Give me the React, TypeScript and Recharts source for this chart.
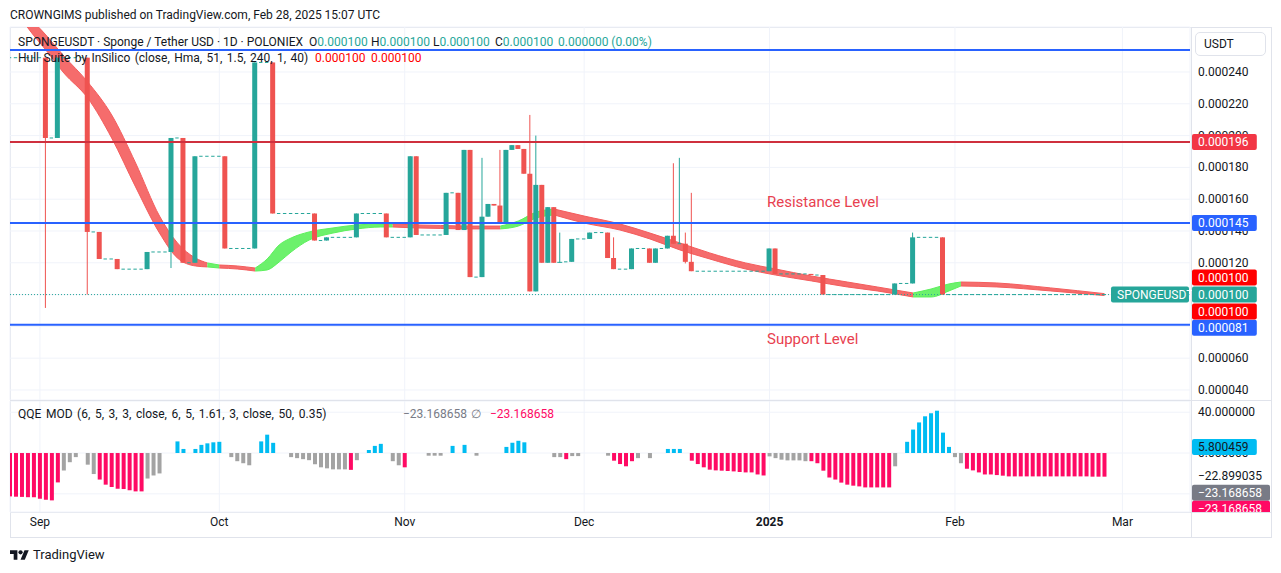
import React from "react";
import {
  ComposedChart,
  Bar,
  Area,
  XAxis,
  YAxis,
  CartesianGrid,
  ReferenceLine,
  Cell,
} from "recharts";

const FONT = "Roboto, 'Liberation Sans', sans-serif";
const TEAL = "#26a69a";
const RED = "#ef5350";
const INK = "#131722";
const GRID = "#f0f3fa";

// day 0 = 1 Sep 2024, first candle is 27 Aug
const FIRST_DAY = -5;
const X_DOMAIN: [number, number] = [-5, 192.3];
const PRICE_DOMAIN: [number, number] = [33.7, 268.3];
const QQE_DOMAIN: [number, number] = [-57.8, 51];
const monthTicks = [0, 30, 61, 91, 122, 153, 181];
const monthLabels = ["Sep", "Oct", "Nov", "Dec", "2025", "Feb", "Mar"];

// prices in millionths of a USDT (100 = 0.000100)
const opens = [
  249, 249, 249, 249, 249, 249, 249, 198.5, 198.5, 249,
  249, 249, 249, 249, 139.4, 139.4, 122.4, 122.4, 122.4, 116,
  116, 116, 116, 116, 126.8, 126.8, 126.8, 126.8, 198.5, 198.5,
  120, 120, 187, 187, 187, 187, 187, 129, 129, 129,
  129, 129, 246, 246, 246, 151, 151, 151, 151, 151,
  151, 151, 134, 134, 136, 136, 136, 136, 136, 151,
  151, 151, 151, 151, 136, 136, 136, 136, 187, 137.5,
  137.5, 137.5, 137.5, 137.5, 164, 164, 140.6, 191, 111, 111,
  149, 157, 156, 145.6, 191, 194, 191.6, 176, 102, 169,
  120, 155, 120, 120.6, 120.6, 135, 135, 135, 139, 139,
  139, 123, 116, 116, 116, 129, 129, 129, 120, 129,
  129, 137, 132, 132, 120.6, 114.7, 114.7, 114.7, 114.7, 114.7,
  114.7, 114.7, 114.7, 114.7, 114.7, 114.7, 114.7, 114.7, 129, 113,
  113, 113, 113, 113, 113, 112.3, 112.3, 100, 100, 100,
  100, 100, 100, 100, 100, 100, 100, 100, 100, 107,
  107, 107, 136, 136, 136, 136, 136, 100, 100, 100,
  100, 100, 100, 100, 100, 100, 100, 100, 100, 100,
  100, 100, 100, 100, 100, 100, 100, 100, 100, 100,
  100, 100, 100, 100,
];
const closes = [
  249, 249, 249, 249, 249, 249, 198.5, 198.5, 249, 249,
  249, 249, 249, 139.4, 139.4, 122.4, 122.4, 122.4, 116, 116,
  116, 116, 116, 126.8, 126.8, 126.8, 126.8, 198.5, 198.5, 120,
  120, 187, 187, 187, 187, 187, 129, 129, 129, 129,
  129, 246, 246, 246, 151, 151, 151, 151, 151, 151,
  151, 134, 134, 136, 136, 136, 136, 136, 151, 151,
  151, 151, 151, 136, 136, 136, 136, 187, 137.5, 137.5,
  137.5, 137.5, 137.5, 164, 164, 140.6, 191, 111, 111, 149,
  157, 156, 145.6, 191, 194, 191.6, 176, 102, 169, 120,
  155, 120, 120.6, 120.6, 135, 135, 135, 139, 139, 139,
  123, 116, 116, 116, 129, 129, 129, 120, 129, 129,
  137, 132, 132, 120.6, 114.7, 114.7, 114.7, 114.7, 114.7, 114.7,
  114.7, 114.7, 114.7, 114.7, 114.7, 114.7, 114.7, 129, 113, 113,
  113, 113, 113, 113, 112.3, 112.3, 100, 100, 100, 100,
  100, 100, 100, 100, 100, 100, 100, 100, 107, 107,
  107, 136, 136, 136, 136, 136, 100, 100, 100, 100,
  100, 100, 100, 100, 100, 100, 100, 100, 100, 100,
  100, 100, 100, 100, 100, 100, 100, 100, 100, 100,
  100, 100, 100, 100,
];
// wick ends, only on the days where a wick sticks out of the body
const wickHighs: Record<number, number> = {
  74: 186, 77: 191, 82: 213, 83: 200, 87: 139, 96: 136,
  106: 182.6, 107: 186, 108: 139, 109: 164, 146: 139,
};
const wickLows: Record<number, number> = { 1: 91.6, 8: 100, 22: 116.7, 108: 119.6 };

// Hull Suite band, read every few days
const hullDays = [
  -4, -2, 1, 4, 8, 12, 16, 20, 23, 26, 28, 30, 33, 36, 38, 40, 42, 45, 49, 53, 57, 59,
  63, 67, 72, 77, 80, 83, 86, 91, 97, 102, 107, 112, 118, 123, 129, 135, 140, 146,
  149, 152, 154, 160, 169, 178,
];
const hullUpper = [
  288, 276, 263.3, 250.1, 233.7, 213, 182.8, 149.4, 132.5, 123, 119.9, 118.6, 118,
  116.7, 122.4, 131.2, 135.6, 139.4, 141.9, 143.8, 144.4, 144.4, 143.8, 143.5, 143.1,
  143.1, 146.3, 151.9, 153.8, 149.4, 144.4, 138.7, 132.5, 126.2, 119.9, 116.1, 111.7,
  107.9, 104.8, 101, 103.5, 106.7, 107.9, 107.3, 104.2, 100.6,
];
const hullLower = [
  279, 267.7, 253.8, 239.4, 223.6, 198.5, 167.7, 138.7, 123, 118, 117.4, 116.7, 116.1,
  114.8, 115.5, 120.5, 126.8, 134.3, 138.7, 141.3, 142.5, 142.5, 141.9, 141.6, 141.3,
  141.3, 143.1, 148.2, 150.1, 145, 140.6, 135, 128.1, 122.4, 116.1, 112.3, 108.6,
  104.8, 102.3, 98.5, 98.5, 102.3, 105.4, 104.8, 102.3, 99.4,
];
// colour of the band from each sample to the next: r falling, g rising
const hullTrend = [
  "r", "r", "r", "r", "r", "r", "r", "r", "r", "r", "g", "r", "r", "g", "g", "g", "g",
  "g", "g", "g", "g", "r", "r", "r", "r", "g", "g", "g", "r", "r", "r", "r", "r", "r",
  "r", "r", "r", "r", "r", "g", "g", "g", "r", "r", "r", "r",
];

// QQE MOD histogram, one bar a day from FIRST_DAY
const qqe = [
  -42.5, -42.8, -43, -43.3, -43.3, -44.8, -45.8, -46.4, -28.8, -17,
  -9, -4, null, -11.4, -20.6, -26, -31, -33.3, -35, -35.3,
  -36.6, -37.6, -37.6, -25, -22, -20, null, null, 11.4, 4,
  null, 4, 8, 9.5, 10.5, 11, null, -4, -8, -10,
  -12, null, 11.4, 18, 10, null, null, -4, -5, -6,
  -7, -11, -14, -15, -16, -16, -16, -16.5, -7, null,
  3, 7, 9, null, -8, -12, -14, null, null, null,
  -2.6, -2.6, -2.6, null, 7, null, 8, null, -2.6, null,
  null, null, null, 6, 10, 12, 10.5, null, null, null,
  null, -4, -4, -6, -3, -3, null, null, null, null,
  -2.6, -7.5, -10.8, -13, -8, -5, null, -5, null, null,
  4, 4, 4, null, -7.5, -10.8, -14, -16.3, -17, -17.3,
  -17.6, -18, -18.6, -19, -19, -21, -22, -3.3, -5, -6.5,
  -7.2, -7.2, -7.2, -8, -8, -10, -17.3, -24, -26, -29,
  -31, -32, -32.7, -33.7, -33.7, -33.7, -33.7, -33.7, -13, null,
  11, 23, 30, 36, 39, 41.5, 20, 6, -4, -10,
  -15.4, -17, -19, -21, -21, -21.6, -22.2, -22.9, -22.9, -22.9,
  -22.9, -22.9, -22.9, -22.9, -22.9, -22.9, -22.9, -22.9, -22.9, -22.9,
  -22.9, -23.17, -23.17, -23.17,
];
// u above the upper band, d below the lower band, n neutral
const qqeTone = [
  "d", "d", "d", "d", "d", "d", "d", "d", "d", "n",
  "n", "n", "n", "n", "n", "d", "d", "d", "d", "d",
  "d", "d", "d", "n", "n", "n", "n", "n", "u", "u",
  "n", "u", "u", "u", "u", "u", "n", "n", "n", "n",
  "n", "n", "u", "u", "u", "n", "n", "n", "n", "n",
  "n", "n", "n", "n", "n", "n", "n", "d", "n", "n",
  "u", "u", "u", "n", "n", "n", "d", "n", "n", "n",
  "n", "n", "n", "n", "u", "n", "u", "n", "n", "n",
  "n", "n", "n", "u", "u", "u", "u", "n", "n", "n",
  "n", "n", "n", "d", "n", "n", "n", "n", "n", "n",
  "n", "d", "d", "d", "d", "n", "n", "n", "n", "n",
  "u", "u", "u", "n", "d", "d", "d", "d", "d", "d",
  "d", "d", "d", "d", "d", "d", "d", "n", "n", "n",
  "n", "n", "n", "n", "d", "d", "d", "d", "d", "d",
  "d", "d", "d", "d", "d", "d", "d", "d", "n", "n",
  "u", "u", "u", "u", "u", "u", "u", "u", "n", "n",
  "d", "d", "d", "d", "d", "d", "d", "d", "d", "d",
  "d", "d", "d", "d", "d", "d", "d", "d", "d", "d",
  "d", "d", "d", "d",
];
const toneColor: Record<string, string> = { u: "#00bcf2", d: "#ff0a64", n: "#a3a3a3" };

const priceTicks = [40, 60, 80, 100, 120, 140, 160, 180, 200, 220, 240];
const qqeTicks = [40, 0, -40];

const candles = opens.map((open, i) => {
  const day = FIRST_DAY + i;
  const close = closes[i];
  return {
    day,
    open,
    close,
    high: wickHighs[day] ?? Math.max(open, close),
    low: wickLows[day] ?? Math.min(open, close),
  };
});

type HullPoint = { day: number; band: [number, number] };
const hullSegments: { tone: string; points: HullPoint[] }[] = [];
hullDays.forEach((day, i) => {
  const point: HullPoint = { day, band: [hullLower[i], hullUpper[i]] };
  const last = hullSegments[hullSegments.length - 1];
  if (!last || last.tone !== hullTrend[i]) {
    if (last) last.points.push(point);
    hullSegments.push({ tone: hullTrend[i], points: [point] });
  } else {
    last.points.push(point);
  }
});

const qqeRows = qqe.map((q, i) => ({ day: FIRST_DAY + i, q, tone: qqeTone[i] }));

const fmtPrice = (v: number) => (v / 1e6).toFixed(6);
const fmtQqe = (v: number) => v.toFixed(6).replace("-", "\u2212");

const Candle = (props: any) => {
  const { x, y, width, height, payload } = props;
  const { open, close, high, low } = payload;
  const color = close < open ? RED : TEAL;
  const cx = x + width / 2;
  const span = high - low;
  const k = span > 0 ? height / span : 0;
  const top = y + (high - Math.max(open, close)) * k;
  const bottom = y + (high - Math.min(open, close)) * k;
  const flat = open === close;
  return (
    <g>
      {span > 0 && (
        <line x1={cx} x2={cx} y1={y} y2={y + height} stroke={color} strokeWidth={1} />
      )}
      <rect
        x={flat ? x + 0.8 : x}
        y={flat ? top - 0.5 : top}
        width={flat ? width - 1.6 : width}
        height={Math.max(1, bottom - top)}
        fill={color}
      />
    </g>
  );
};

// price tag on the right axis (or just inside the plot when inside=true)
const tag =
  (text: string, bg: string, dy = 0, fg = "#ffffff", inside = false) =>
  (p: any) => {
    const vb = p.viewBox;
    const w = text.length * 6.6 + 12;
    const x = inside ? vb.x + vb.width - w - 1 : vb.x + vb.width + 2;
    const y = vb.y + dy;
    return (
      <g>
        <rect x={x} y={y - 8} width={w} height={16} rx={2} fill={bg} />
        <text x={x + 6} y={y + 4} fill={fg} fontSize={12} fontFamily={FONT}>
          {text}
        </text>
      </g>
    );
  };

const plainTag = (text: string) => (p: any) => {
  const vb = p.viewBox;
  return (
    <text x={vb.x + vb.width + 8} y={vb.y + 4} fill={INK} fontSize={12} fontFamily={FONT}>
      {text}
    </text>
  );
};

const PriceTick = (p: any) => (
  <text x={p.x} y={p.y} dy={4} fill={INK} fontSize={12} fontFamily={FONT}>
    {p.fmt(p.payload.value)}
  </text>
);

const TimeTick = (p: any) => {
  const label = monthLabels[monthTicks.indexOf(p.payload.value)];
  return (
    <text
      x={p.x}
      y={p.y}
      dy={4}
      textAnchor="middle"
      fill={INK}
      fontSize={12}
      fontWeight={label === "2025" ? 700 : 400}
      fontFamily={FONT}
    >
      {label}
    </text>
  );
};

const Txt = ({ x, y, children, color = INK, size = 12, wide = 0 }: any) => (
  <div
    style={{
      position: "absolute",
      left: x,
      top: y - 8,
      height: 16,
      lineHeight: "16px",
      fontSize: size,
      color,
      fontFamily: FONT,
      whiteSpace: "nowrap",
      wordSpacing: wide,
    }}
  >
    {children}
  </div>
);

const MAIN_MARGIN = { top: 27, right: 0, bottom: 0, left: 10 };
const QQE_MARGIN = { top: 0, right: 0, bottom: 0, left: 10 };

const App = () => {
  return (
    <div style={{ position: "relative", width: 1281, height: 573, background: "#fff", overflow: "hidden" }}>
      <style>{"body{margin:0}"}</style>

      <svg width={1281} height={573} style={{ position: "absolute", left: 0, top: 0 }}>
        <rect x={10.5} y={27.5} width={1261} height={510} fill="none" stroke="#e0e3eb" />
        <line x1={1191.5} x2={1191.5} y1={27} y2={538} stroke="#e0e3eb" />
        <line x1={10} x2={1272} y1={400.5} y2={400.5} stroke="#e0e3eb" />
        <line x1={10} x2={1272} y1={512.5} y2={512.5} stroke="#e0e3eb" />
      </svg>

      {/* price pane */}
      <div style={{ position: "absolute", left: 0, top: 0 }}>
        <ComposedChart width={1281} height={400} data={candles} margin={MAIN_MARGIN}>
          <CartesianGrid stroke={GRID} />
          <XAxis
            dataKey="day"
            type="number"
            domain={X_DOMAIN}
            ticks={monthTicks}
            allowDataOverflow
            hide
          />
          <YAxis
            orientation="right"
            width={91}
            domain={PRICE_DOMAIN}
            ticks={priceTicks}
            allowDataOverflow
            axisLine={false}
            tickLine={false}
            tickSize={0}
            tickMargin={8}
            tick={<PriceTick fmt={fmtPrice} />}
          />
          {hullSegments.map((s, i) => (
            <Area
              key={i}
              data={s.points}
              dataKey="band"
              type="monotone"
              stroke={s.tone === "g" ? "#5cf05c" : "#f45c5c"}
              strokeWidth={1}
              fill={s.tone === "g" ? "#5cf05c" : "#f45c5c"}
              fillOpacity={0.9}
              isAnimationActive={false}
            />
          ))}
          <Bar
            dataKey={(r: any) => [r.low, r.high]}
            barSize={5}
            shape={<Candle />}
            isAnimationActive={false}
          />
          <ReferenceLine y={253.8} stroke="#2962ff" strokeWidth={2} />
          <ReferenceLine y={196} stroke="#cf303e" strokeWidth={2} />
          <ReferenceLine y={145} stroke="#2962ff" strokeWidth={2} />
          <ReferenceLine y={81} stroke="#2962ff" strokeWidth={2} />
          <ReferenceLine y={100} stroke={TEAL} strokeDasharray="1 2" strokeWidth={1} />
        </ComposedChart>
      </div>

      {/* price tags, drawn over the axis labels */}
      <div style={{ position: "absolute", left: 0, top: 0 }}>
        <ComposedChart width={1281} height={400} data={candles} margin={MAIN_MARGIN}>
          <XAxis dataKey="day" type="number" domain={X_DOMAIN} allowDataOverflow hide />
          <YAxis
            orientation="right"
            width={91}
            domain={PRICE_DOMAIN}
            allowDataOverflow
            axisLine={false}
            tickLine={false}
            tick={false}
          />
          <ReferenceLine y={196} strokeOpacity={0} label={tag("0.000196", "#f23645")} />
          <ReferenceLine y={145} strokeOpacity={0} label={tag("0.000145", "#2962ff")} />
          <ReferenceLine y={81} strokeOpacity={0} label={tag("0.000081", "#2962ff", 3)} />
          <ReferenceLine
            y={100}
            strokeOpacity={0}
            label={tag("SPONGEUSDT", TEAL, 0, "#fff", true)}
          />
          <ReferenceLine y={100} strokeOpacity={0} label={tag("0.000100", "#ff0000", -17)} />
          <ReferenceLine y={100} strokeOpacity={0} label={tag("0.000100", TEAL)} />
          <ReferenceLine y={100} strokeOpacity={0} label={tag("0.000100", "#ff0000", 17)} />
        </ComposedChart>
      </div>

      {/* QQE pane */}
      <div style={{ position: "absolute", left: 0, top: 401 }}>
        <ComposedChart width={1281} height={137} data={qqeRows} margin={QQE_MARGIN}>
          <CartesianGrid stroke={GRID} />
          <XAxis
            dataKey="day"
            type="number"
            domain={X_DOMAIN}
            ticks={monthTicks}
            allowDataOverflow
            height={26}
            axisLine={false}
            tickLine={false}
            tickSize={0}
            tickMargin={10}
            tick={<TimeTick />}
          />
          <YAxis
            orientation="right"
            width={91}
            domain={QQE_DOMAIN}
            ticks={qqeTicks}
            allowDataOverflow
            axisLine={false}
            tickLine={false}
            tickSize={0}
            tickMargin={8}
            tick={<PriceTick fmt={fmtQqe} />}
          />
          <Bar dataKey="q" barSize={4} isAnimationActive={false}>
            {qqeRows.map((r, i) => (
              <Cell key={i} fill={toneColor[r.tone]} />
            ))}
          </Bar>
        </ComposedChart>
      </div>

      {/* QQE tags, clipped at the bottom of the pane */}
      <div style={{ position: "absolute", left: 0, top: 401, height: 111, width: 1281, overflow: "hidden" }}>
        <ComposedChart width={1281} height={137} data={qqeRows} margin={QQE_MARGIN}>
          <XAxis dataKey="day" type="number" domain={X_DOMAIN} allowDataOverflow height={26} tick={false} axisLine={false} tickLine={false} />
          <YAxis
            orientation="right"
            width={91}
            domain={QQE_DOMAIN}
            allowDataOverflow
            axisLine={false}
            tickLine={false}
            tick={false}
          />
          <ReferenceLine
            y={5.800459}
            strokeOpacity={0}
            label={tag("5.800459", "#00bcf2", 0, INK)}
          />
          <ReferenceLine y={-22.899035} strokeOpacity={0} label={plainTag("\u221222.899035")} />
          <ReferenceLine
            y={-23.168658}
            strokeOpacity={0}
            label={tag("\u221223.168658", "#787b86", 16)}
          />
          <ReferenceLine
            y={-23.168658}
            strokeOpacity={0}
            label={tag("\u221223.168658", "#ff0a64", 32)}
          />
        </ComposedChart>
      </div>

      <Txt x={10} y={15}>CROWNGIMS published on TradingView.com, Feb 28, 2025 15:07 UTC</Txt>
      <Txt x={18} y={42}>SPONGEUSDT · Sponge / Tether USD · 1D · POLONIEX</Txt>
      <Txt x={309} y={42}>
        O<span style={{ color: TEAL }}>0.000100</span>
      </Txt>
      <Txt x={371} y={42}>
        H<span style={{ color: TEAL }}>0.000100</span>
      </Txt>
      <Txt x={433} y={42}>
        L<span style={{ color: TEAL }}>0.000100</span>
      </Txt>
      <Txt x={495} y={42}>
        C<span style={{ color: TEAL }}>0.000100</span>
      </Txt>
      <Txt x={558} y={42} color={TEAL}>
        0.000000 (0.00%)
      </Txt>
      <Txt x={18} y={58} wide={1.4}>
        Hull Suite by InSilico (close, Hma, 51, 1.5, 240, 1, 40)
      </Txt>
      <Txt x={315} y={58} color="#ff0000">
        0.000100
      </Txt>
      <Txt x={371} y={58} color="#ff0000">
        0.000100
      </Txt>

      <Txt x={767} y={202} color="#e8414f" size={15}>
        Resistance Level
      </Txt>
      <Txt x={767} y={339} color="#e8414f" size={15}>
        Support Level
      </Txt>

      <Txt x={18} y={414} wide={1.6}>
        QQE MOD (6, 5, 3, 3, close, 6, 5, 1.61, 3, close, 50, 0.35)
      </Txt>
      <Txt x={403} y={414} color="#787b86">
        {"\u221223.168658"}
      </Txt>
      <Txt x={471} y={414} color="#787b86">
        ∅
      </Txt>
      <Txt x={490} y={414} color="#ff0a64">
        {"\u221223.168658"}
      </Txt>

      <div
        style={{
          position: "absolute",
          left: 1195,
          top: 32,
          width: 71,
          height: 24,
          border: "1px solid #e0e3eb",
          borderRadius: 5,
          background: "#fff",
          boxSizing: "border-box",
          fontFamily: FONT,
          fontSize: 12,
          lineHeight: "22px",
          paddingLeft: 8,
          color: INK,
        }}
      >
        USDT
      </div>

      <svg width={19} height={15} viewBox="0 0 36 28" style={{ position: "absolute", left: 10, top: 548 }}>
        <path d="M14 22H7V11H0V4h14v18z" fill={INK} />
        <circle cx={20} cy={8} r={4} fill={INK} />
        <path d="M28 22h-8l7.5-18h8L28 22z" fill={INK} />
      </svg>
      <Txt x={33} y={555} size={13}>
        TradingView
      </Txt>
    </div>
  );
};

export default App;
